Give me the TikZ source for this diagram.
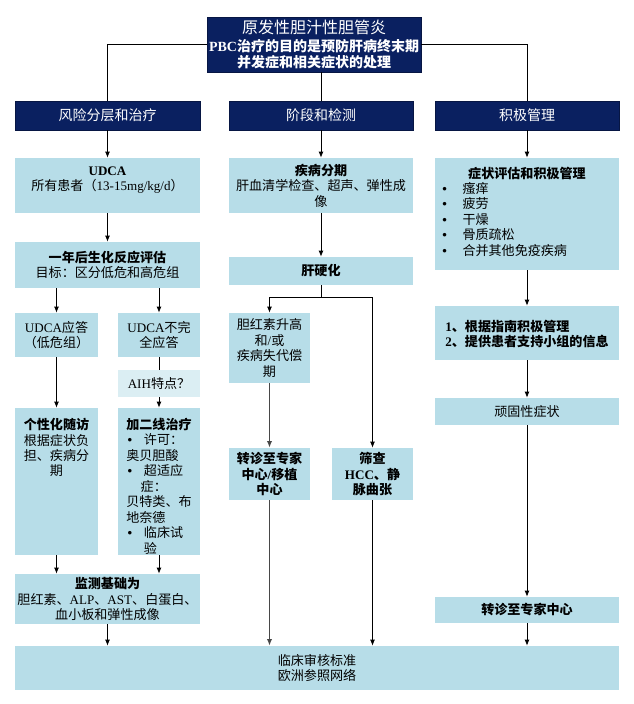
\documentclass[tikz,border=0pt]{standalone}
\usepackage{fontspec}
\setmainfont{Noto Sans CJK SC}
\newfontfamily\lat{Liberation Serif}
\usetikzlibrary{arrows.meta}
\definecolor{navy}{RGB}{10,32,96}
\definecolor{lb}{RGB}{183,221,232}
\definecolor{lbl}{RGB}{219,238,243}
\newcommand\bodyf{\fontsize{9.8}{11.6}\selectfont}
\newcommand\blt{{\lat\bfseries •}}
\newcommand\bx[7]{%
 \pgfmathsetmacro\bxcx{(#3+#5)/2}%
 \pgfmathsetmacro\bxcy{(#4+#6)/2}%
 \pgfmathsetmacro\bxw{(#5-#3)*0.75}%
 \pgfmathsetmacro\bxh{(#6-#4)*0.75}%
 \node[#1,minimum width=\bxw pt,minimum height=\bxh pt] (#2) at (\bxcx,\bxcy) {#7};}
\tikzset{
 hd/.style={fill=navy, draw=navy!70!black, line width=0.4pt, text=white, inner sep=0pt, align=center, font=\fontsize{10.5}{12.6}\selectfont},
 bxs/.style={fill=lb, inner sep=0pt, align=center, font=\bodyf},
 bxl/.style={fill=lbl, inner sep=0pt, align=center, font=\bodyf},
 txt/.style={inner sep=0pt, font=\bodyf},
 arr/.style={line width=0.6pt, -{Latex[length=4.5pt,width=3.6pt]}},
 ln/.style={line width=0.6pt},
 garr/.style={line width=1.1pt, draw=black!72, -{Latex[length=5pt,width=4pt]}},
}
\begin{document}
\begin{tikzpicture}[x=0.75pt,y=-0.75pt]
\fill[white] (0,0) rectangle (633,704);
\useasboundingbox (0,0) rectangle (633,704);
% title and headers
\bx{hd}{title}{207}{17}{421}{72}{{\fontsize{12}{14}\selectfont 原发性胆汁性胆管炎}\\[1pt]{\bfseries {\lat PBC}治疗的目的是预防肝病终末期}\\{\bfseries 并发症和相关症状的处理}}
\bx{hd}{hL}{15}{101}{200}{130}{风险分层和治疗}
\bx{hd}{hM}{229}{101}{413}{130}{阶段和检测}
\bx{hd}{hR}{435}{101}{619}{130}{积极管理}
% left column
\bx{bxs}{udca}{15}{158}{200}{213}{}
\node[txt, align=center] (udcat) at (107.5,180) {\textbf{\lat UDCA}\\所有患者（{\lat 13-15mg/kg/d}）};
\bx{bxs}{eval}{15}{242}{200}{288}{\textbf{一年后生化反应评估}\\目标：区分低危和高危组}
\bx{bxs}{resp}{15}{313}{98}{357}{{\lat UDCA}应答\\（低危组）}
\bx{bxs}{incomp}{118}{313}{200}{357}{{\lat UDCA}不完\\全应答}
\bx{bxl}{aih}{118}{370}{200}{397}{{\lat AIH}特点？}
\bx{bxs}{indiv}{15}{408}{98}{555}{}
\node[txt, anchor=north, align=center] (indivt) at (56.5,418) {\textbf{个性化随访}\\根据症状负\\担、疾病分\\期};
\bx{bxs}{second}{118}{408}{200}{555}{}
\node[txt, anchor=north, align=left] (secondt) at (159,418) {\textbf{加二线治疗}\\\makebox[1.35em][l]{\hspace{0.1em}\blt}许可：\\奥贝胆酸\\\makebox[1.35em][l]{\hspace{0.1em}\blt}超适应\\\hspace{1.1em}症：\\贝特类、布\\地奈德\\\makebox[1.35em][l]{\hspace{0.1em}\blt}临床试\\\hspace{1.35em}验};
\bx{bxs}{mon}{15}{574}{200}{624}{\textbf{监测基础为}\\胆红素、{\lat ALP}、{\lat AST}、白蛋白、\\血小板和弹性成像}
% middle column
\bx{bxs}{stage}{229}{158}{413}{213}{\textbf{疾病分期}\\肝血清学检查、超声、弹性成\\像}
\bx{bxs}{cirr}{229}{257}{413}{285}{\textbf{肝硬化}}
\bx{bxs}{bili}{229}{313}{310}{383}{胆红素升高\\和{\lat /}或\\疾病失代偿\\期}
\bx{bxs}{transp}{229}{448}{310}{500}{\textbf{转诊至专家}\\\textbf{中心{\lat /}移植}\\\textbf{中心}}
\bx{bxs}{scr}{332}{448}{413}{500}{\textbf{筛查}\\\textbf{{\lat HCC}、静}\\\textbf{脉曲张}}
% right column
\bx{bxs}{symp}{435}{158}{619}{270}{}
\node[txt, font=\bodyf\bfseries] (sympt) at (527,173) {症状评估和积极管理};
\node[txt, anchor=north west, align=left] (sympl) at (442,182) {\makebox[1.55em][l]{\blt}瘙痒\\\makebox[1.55em][l]{\blt}疲劳\\\makebox[1.55em][l]{\blt}干燥\\\makebox[1.55em][l]{\blt}骨质疏松\\\makebox[1.55em][l]{\blt}合并其他免疫疾病};
\bx{bxs}{guide}{435}{306}{619}{360}{}
\node[txt, align=left, font=\bodyf\bfseries] (guidet) at (527,334) {{\lat 1}、根据指南积极管理\\{\lat 2}、提供患者支持小组的信息};
\bx{bxs}{refr}{435}{398}{619}{425}{顽固性症状}
\bx{bxs}{refer}{435}{597}{619}{623}{\textbf{转诊至专家中心}}
% bottom
\bx{bxs}{bot}{15}{646}{619}{690}{临床审核标准\\欧洲参照网络}
% connectors
\draw[ln] (title.west) -| (hL.north);
\draw[ln] (title.east) -| (hR.north);
\draw[ln] (hM.north |- title.south) -- (hM.north);
\draw[arr] (hL.south) -- (udca.north);
\draw[arr] (hM.south) -- (stage.north);
\draw[arr] (hR.south) -- (symp.north);
\draw[arr] (udca.south) -- (eval.north);
\draw[arr] (resp.north |- eval.south) -- (resp.north);
\draw[arr] (incomp.north |- eval.south) -- (incomp.north);
\draw[arr] (resp.south) -- (indiv.north);
\draw[ln] (incomp.south) -- (aih.north);
\draw[arr] (aih.south) -- (second.north);
\draw[arr] (indiv.south) -- (indiv.south |- mon.north);
\draw[arr] (second.south) -- (second.south |- mon.north);
\draw[arr] (mon.south) -- (mon.south |- bot.north);
\draw[arr] (stage.south) -- (cirr.north);
\draw[ln] (cirr.south) -- ++(0,12) coordinate (sp);
\draw[arr] (sp) -| (bili.north);
\draw[arr] (sp) -| (scr.north);
\draw[garr] (bili.south) -- (transp.north);
\draw[garr] (transp.south) -- (transp.south |- bot.north);
\draw[arr] (scr.south) -- (scr.south |- bot.north);
\draw[arr] (symp.south) -- (guide.north);
\draw[arr] (guide.south) -- (refr.north);
\draw[arr] (refr.south) -- (refer.north);
\draw[arr] (refer.south) -- (refer.south |- bot.north);
\end{tikzpicture}
\end{document}
